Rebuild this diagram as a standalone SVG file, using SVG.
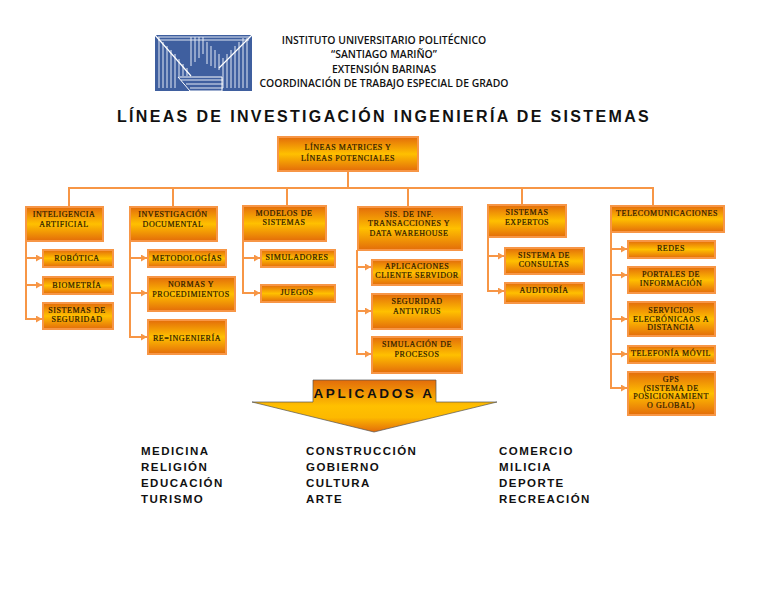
<svg xmlns="http://www.w3.org/2000/svg" width="768" height="594" viewBox="0 0 768 594">
<style>
.hd{font-family:"Open Sans","Noto Sans",sans-serif;font-size:10.4px;font-weight:600;fill:#111;text-anchor:middle}
.ttl{font-family:"Liberation Sans",Arial,sans-serif;font-size:16px;font-weight:700;letter-spacing:2.35px;fill:#111;text-anchor:middle}
.b{fill:url(#g);stroke:#f79646;stroke-width:2}
.t{font-family:"Liberation Serif","Times New Roman",serif;font-size:8px;font-weight:400;letter-spacing:.55px;fill:#2a1a00;text-anchor:middle;stroke:#2a1a00;stroke-width:.2}
.c{fill:none;stroke:#f79646;stroke-width:2}
.l{font-family:"Liberation Sans",Arial,sans-serif;font-size:11.5px;font-weight:700;letter-spacing:1.45px;fill:#111}
.ap{font-family:"Liberation Sans",Arial,sans-serif;font-size:13.5px;font-weight:700;letter-spacing:2.6px;fill:#111;text-anchor:middle}
.lg{fill:none;stroke:#3f5f9f;stroke-width:1.6}
</style>
<defs>
<linearGradient id="g" x1="0" y1="0" x2="0" y2="1"><stop offset="0" stop-color="#e36c0a"/><stop offset=".5" stop-color="#ffc000"/><stop offset="1" stop-color="#e36c0a"/></linearGradient>
<linearGradient id="a" gradientUnits="userSpaceOnUse" x1="0" y1="380" x2="0" y2="432"><stop offset="0" stop-color="#e36c0a"/><stop offset=".5" stop-color="#ffc000"/><stop offset=".72" stop-color="#fdb900"/><stop offset="1" stop-color="#e36c0a"/></linearGradient>
<marker id="m" markerUnits="userSpaceOnUse" markerWidth="8" markerHeight="8" refX="6" refY="3.5" orient="auto"><path d="M0 0L6 3.5L0 7Z" fill="#f79646"/></marker>
</defs>
<rect width="768" height="594" fill="#fff"/>
<g id="logo">
<rect x="155" y="35" width="97" height="56" fill="#3f5f9f"/>
<path d="M158 37H250M158 40H249" stroke="#dfe6f2" stroke-width="1"/>
<path d="M159 37V88M163 42V88M167 46V88M171 50V88M175 54V88M179 59V76M183 64V76M187 68V76M191 37V66M195 37V62M199 37V58M203 37V54M207 42V64M211 46V66M215 50V68M219 54V70M223 58V88M227 54V88M231 50V88M235 46V88M239 42V88M243 38V88M247 38V88" stroke="#e4eaf5" stroke-width="1"/>
<path d="M155 35L191 76M252 35L219 68" stroke="#fff" stroke-width="1.2"/>
<path d="M181 80H223M186 84H223M190 88H223" stroke="#e4eaf5" stroke-width="1"/>
<path d="M178 77H222V91H190Z" fill="none" stroke="#fff" stroke-width="1"/>
</g>
<g id="header">
<text class="hd" x="384" y="44">INSTITUTO UNIVERSITARIO POLITÉCNICO</text>
<text class="hd" x="384" y="58">“SANTIAGO MARIÑO”</text>
<text class="hd" x="384" y="73">EXTENSIÓN BARINAS</text>
<text class="hd" x="384" y="87">COORDINACIÓN DE TRABAJO ESPECIAL DE GRADO</text>
<text class="ttl" x="384" y="122">LÍNEAS DE INVESTIGACIÓN INGENIERÍA DE SISTEMAS</text>
</g>
<g id="connectors">
<path class="c" d="M348 171V188M69 206V188H653V205M173 188V206M287 188V205M408 188V206M522 188V204"/>
<path class="c" marker-end="url(#m)" d="M26 241V319H42"/>
<path class="c" marker-end="url(#m)" d="M26 258H42"/>
<path class="c" marker-end="url(#m)" d="M26 285H42"/>
<path class="c" marker-end="url(#m)" d="M130 241V337H147"/>
<path class="c" marker-end="url(#m)" d="M130 258H147"/>
<path class="c" marker-end="url(#m)" d="M130 293H147"/>
<path class="c" marker-end="url(#m)" d="M243 241V293H260"/>
<path class="c" marker-end="url(#m)" d="M243 258H260"/>
<path class="c" marker-end="url(#m)" d="M357 250V354H371"/>
<path class="c" marker-end="url(#m)" d="M357 267H371"/>
<path class="c" marker-end="url(#m)" d="M357 311H371"/>
<path class="c" marker-end="url(#m)" d="M488 237V291H504"/>
<path class="c" marker-end="url(#m)" d="M488 256H504"/>
<path class="c" marker-end="url(#m)" d="M611 232V388H627"/>
<path class="c" marker-end="url(#m)" d="M611 249H627"/>
<path class="c" marker-end="url(#m)" d="M611 275H627"/>
<path class="c" marker-end="url(#m)" d="M611 319H627"/>
<path class="c" marker-end="url(#m)" d="M611 354H627"/>
</g>
<g id="root"><rect class="b" x="278" y="137" width="140" height="34"/><text class="t" x="348" y="150">LÍNEAS MATRICES Y</text><text class="t" x="348" y="161">LÍNEAS POTENCIALES</text></g>
<g id="n1"><rect class="b" x="26" y="207" width="77" height="34"/><text class="t" x="64" y="217">INTELIGENCIA</text><text class="t" x="64" y="227">ARTIFICIAL</text></g>
<g id="n2"><rect class="b" x="130" y="207" width="87" height="34"/><text class="t" x="173" y="217">INVESTIGACIÓN</text><text class="t" x="173" y="227">DOCUMENTAL</text></g>
<g id="n3"><rect class="b" x="243" y="206" width="83" height="35"/><text class="t" x="284" y="216">MODELOS DE</text><text class="t" x="284" y="225">SISTEMAS</text></g>
<g id="n4"><rect class="b" x="358" y="207" width="104" height="43"/><text class="t" x="409" y="217">SIS. DE INF.</text><text class="t" x="409" y="226">TRANSACCIONES Y</text><text class="t" x="409" y="236">DATA WAREHOUSE</text></g>
<g id="n5"><rect class="b" x="488" y="205" width="78" height="32"/><text class="t" x="527" y="215">SISTEMAS</text><text class="t" x="527" y="225">EXPERTOS</text></g>
<g id="n6"><rect class="b" x="611" y="206" width="113" height="26"/><text class="t" x="667" y="216">TELECOMUNICACIONES</text></g>
<g id="n1a"><rect class="b" x="43" y="250" width="70" height="17"/><text class="t" x="77" y="261">ROBÓTICA</text></g>
<g id="n1b"><rect class="b" x="43" y="277" width="70" height="17"/><text class="t" x="77" y="288">BIOMETRÍA</text></g>
<g id="n1c"><rect class="b" x="43" y="303" width="70" height="26"/><text class="t" x="77" y="313">SISTEMAS DE</text><text class="t" x="77" y="322">SEGURIDAD</text></g>
<g id="n2a"><rect class="b" x="148" y="250" width="78" height="17"/><text class="t" x="187" y="261">METODOLOGÍAS</text></g>
<g id="n2b"><rect class="b" x="148" y="277" width="87" height="34"/><text class="t" x="191" y="287">NORMAS Y</text><text class="t" x="191" y="297">PROCEDIMIENTOS</text></g>
<g id="n2c"><rect class="b" x="148" y="320" width="78" height="34"/><text class="t" x="187" y="341">RE=INGENIERÍA</text></g>
<g id="n3a"><rect class="b" x="261" y="250" width="74" height="17"/><text class="t" x="297" y="260">SIMULADORES</text></g>
<g id="n3b"><rect class="b" x="261" y="285" width="74" height="17"/><text class="t" x="297" y="295">JUEGOS</text></g>
<g id="n4a"><rect class="b" x="372" y="260" width="90" height="25"/><text class="t" x="417" y="269">APLICACIONES</text><text class="t" x="417" y="278">CLIENTE SERVIDOR</text></g>
<g id="n4b"><rect class="b" x="372" y="294" width="90" height="35"/><text class="t" x="417" y="304">SEGURIDAD</text><text class="t" x="417" y="314">ANTIVIRUS</text></g>
<g id="n4c"><rect class="b" x="372" y="337" width="90" height="36"/><text class="t" x="417" y="347">SIMULACIÓN DE</text><text class="t" x="417" y="357">PROCESOS</text></g>
<g id="n5a"><rect class="b" x="505" y="248" width="79" height="26"/><text class="t" x="544" y="258">SISTEMA DE</text><text class="t" x="544" y="267">CONSULTAS</text></g>
<g id="n5b"><rect class="b" x="505" y="283" width="79" height="20"/><text class="t" x="544" y="293">AUDITORÍA</text></g>
<g id="n6a"><rect class="b" x="628" y="241" width="87" height="17"/><text class="t" x="671" y="251">REDES</text></g>
<g id="n6b"><rect class="b" x="628" y="267" width="87" height="26"/><text class="t" x="671" y="277">PORTALES DE</text><text class="t" x="671" y="286">INFORMACIÓN</text></g>
<g id="n6c"><rect class="b" x="628" y="302" width="87" height="34"/><text class="t" x="671" y="313">SERVICIOS</text><text class="t" x="671" y="322">ELECRÓNICAOS A</text><text class="t" x="671" y="330">DISTANCIA</text></g>
<g id="n6d"><rect class="b" x="628" y="346" width="87" height="17"/><text class="t" x="671" y="356">TELEFONÍA MÓVIL</text></g>
<g id="n6e"><rect class="b" x="628" y="372" width="87" height="43"/><text class="t" x="671" y="382">GPS</text><text class="t" x="671" y="391">(SISTEMA DE</text><text class="t" x="671" y="399">POSICIONAMIENT</text><text class="t" x="671" y="408">O GLOBAL)</text></g>
<g id="aplicados"><path d="M313 402V380H436V402H497L374 432L252 402Z" fill="url(#a)" stroke="#555" stroke-width=".7"/><text class="ap" x="374" y="398">APLICADOS  A</text></g>
<g id="lists">
<text class="l" x="141" y="455">MEDICINA</text><text class="l" x="141" y="471">RELIGIÓN</text><text class="l" x="141" y="487">EDUCACIÓN</text><text class="l" x="141" y="503">TURISMO</text>
<text class="l" x="306" y="455">CONSTRUCCIÓN</text><text class="l" x="306" y="471">GOBIERNO</text><text class="l" x="306" y="487">CULTURA</text><text class="l" x="306" y="503">ARTE</text>
<text class="l" x="499" y="455">COMERCIO</text><text class="l" x="499" y="471">MILICIA</text><text class="l" x="499" y="487">DEPORTE</text><text class="l" x="499" y="503">RECREACIÓN</text>
</g>
</svg>
